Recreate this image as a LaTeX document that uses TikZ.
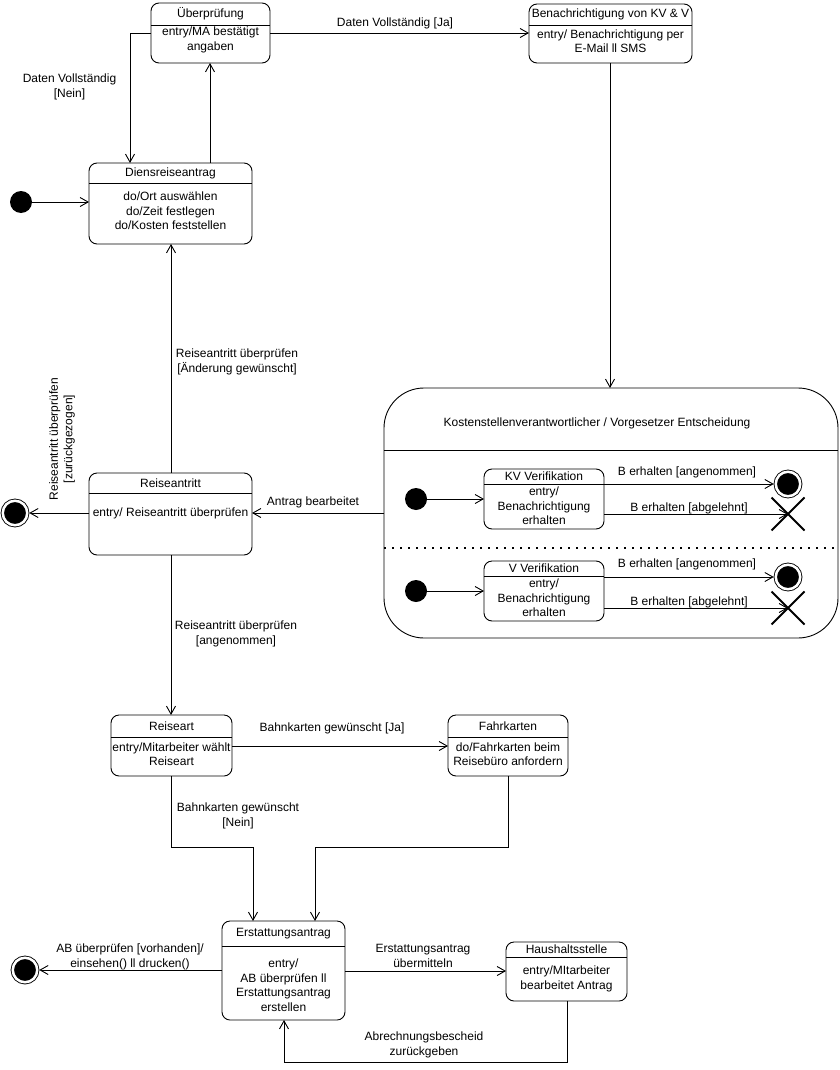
\documentclass[tikz,border=0pt]{standalone}
\usepackage{fontspec}
\setmainfont{Liberation Sans}
\usepackage{tikz}
\usetikzlibrary{arrows.meta,shapes,shapes.misc}
\usetikzlibrary{positioning}
\tikzstyle{trans}=[every edge/.style={draw,->}]
\tikzstyle{hit}=[->]
\tikzstyle{Sbox}=[draw,rounded corners=8pt,inner sep=0,outer sep=0]
\tikzstyle{Stxt}=[align=center,inner sep=0,font=\fontsize{12}{14.5}\selectfont]
\tikzstyle{Sini}=[circle,fill=black,minimum size=22pt,inner sep=0]
\tikzstyle{Sfin}=[circle,draw,fill=black,double,double distance=2.5pt,minimum size=24.5pt,inner sep=0,outer sep=2pt]
\tikzstyle{Skill}=[cross out,draw,line width=2pt,minimum size=31pt,inner sep=0]
\tikzstyle{region}=[dash pattern=on 2pt off 6pt,line width=1.5pt]
\newcommand{\stbox}[7]{\node[Sbox,minimum width={#4-#2},minimum height={#5-#3}] (#1) at ({(#2+#4)/2},{(#3+#5)/2}) {};\draw (#2,#6) -- (#4,#6);\node[Stxt] (#1t) at ({(#2+#4)/2},{(#3+#6)/2}) {#7};}

\begin{document}
\begin{tikzpicture}[trans,x=1pt,y=-1pt,line width=0.9pt,>={Straight Barb[length=8pt,width=9pt]}]
  \useasboundingbox (0,0) rectangle (839,1070);

  \stbox{uepr}{151}{3}{270}{63}{25}{Überprüfung};
  \node[Stxt] (ueprb) at (210.5,40) {entry/MA bestätigt\\angaben};
  \stbox{benach}{529}{4}{692}{63}{25}{Benachrichtigung von KV \& V};
  \node[Stxt] (benachb) at (610.5,41) {entry/ Benachrichtigung per\\E-Mail ll SMS};
  \stbox{dra}{89}{163}{252}{244}{183}{Diensreiseantrag};
  \node[Stxt] (drab) at (170.5,211) {do/Ort auswählen\\do/Zeit festlegen\\do/Kosten feststellen};
  \node[Sini] (i0) at (21,202) {};

  \draw[hit] (uepr.west |- 0,33) -| (130,0 |- dra.north);
  \node[Stxt] (l1) at (69.5,87) {Daten Vollständig\\{}[Nein]};
  \draw[hit] (dra.north -| 210,0) -- (uepr.south -| 210,0);
  \draw[hit] (uepr.east |- 0,33) -- (benach.west |- 0,33);
  \node[Stxt] (l2) at (395,23) {Daten Vollständig [Ja]};
  \draw[hit] (i0) -- (dra.west |- i0);

  \stbox{rant}{89}{473}{252}{555}{493}{Reiseantritt};
  \node[Stxt] (rantb) at (170.5,513) {entry/ Reiseantritt überprüfen};
  \node[Sfin] (f0) at (15,513) {};

  \node[Sbox,rounded corners=40pt,minimum width=454,minimum height=250] (kve) at (611,513) {};
  \node[Stxt] (kvet) at (597,423) {Kostenstellenverantwortlicher / Vorgesetzer Entscheidung};
  \draw (kve.west |- 0,450) -- (kve.east |- 0,450);
  \draw[region] (kve.west |- 0,548) -- (kve.east |- 0,548);
  \draw[hit] (benach.south -| 610,0) -- (kve.north -| 610,0);

  \node[Sini] (i1) at (416,499) {};
  \stbox{kv}{484}{469}{604}{529}{484}{KV Verifikation};
  \node[Stxt] (kvb) at (544,506) {entry/\\Benachrichtigung\\erhalten};
  \node[Sfin] (f1) at (788,484) {};
  \node[Skill] (x1) at (788,514) {};
  \path (i1) edge (kv);
  \draw[hit] (kv.east |- f1) -- (f1);
  \node[Stxt] (l3) at (687,472) {B erhalten [angenommen]};
  \draw[hit] (kv.east |- x1) -- (x1.center);
  \node[Stxt] (l4) at (689,508) {B erhalten [abgelehnt]};

  \node[Sini] (i2) at (416,591) {};
  \stbox{v}{484}{561}{604}{621}{576}{V Verifikation};
  \node[Stxt] (vb) at (544,598) {entry/\\Benachrichtigung\\erhalten};
  \node[Sfin] (f2) at (788,577) {};
  \node[Skill] (x2) at (788,608) {};
  \path (i2) edge (v);
  \draw[hit] (v.east |- f2) -- (f2);
  \node[Stxt] (l5) at (687,564) {B erhalten [angenommen]};
  \draw[hit] (v.east |- x2) -- (x2.center);
  \node[Stxt] (l6) at (689,602) {B erhalten [abgelehnt]};

  \draw[hit] (kve.west) -- (rant.east |- kve.west);
  \node[Stxt] (l7) at (313,502) {Antrag bearbeitet};
  \draw[hit] (rant.north -| 171,0) -- (dra.south -| 171,0);
  \node[Stxt] (l8) at (237,362) {Reiseantritt überprüfen\\{}[Änderung gewünscht]};
  \draw[hit] (rant.west |- f0) -- (f0);
  \node[Stxt,rotate=90] (l9) at (62,439) {Reiseantritt überprüfen\\{}[zurückgezogen]};

  \stbox{rart}{111}{715}{232}{776}{737}{Reiseart};
  \node[Stxt] (rartb) at (171.5,754) {entry/Mitarbeiter wählt\\Reiseart};
  \stbox{fahr}{448}{715}{568}{776}{737}{Fahrkarten};
  \node[Stxt] (fahrb) at (508,754) {do/Fahrkarten beim\\Reisebüro anfordern};
  \draw[hit] (rant.south -| 171,0) -- (rart.north -| 171,0);
  \node[Stxt] (l10) at (236,634) {Reiseantritt überprüfen\\{}[angenommen]};
  \draw[hit] (rart.east |- 0,746) -- (fahr.west |- 0,746);
  \node[Stxt] (l11) at (332,728) {Bahnkarten gewünscht [Ja]};

  \stbox{erst}{222}{921}{345}{1020}{946}{Erstattungsantrag};
  \node[Stxt] (erstb) at (283.5,985) {entry/\\AB überprüfen ll\\Erstattungsantrag\\erstellen};
  \stbox{haus}{506}{942}{627}{1001}{957}{Haushaltsstelle};
  \node[Stxt] (hausb) at (566.5,979) {entry/MItarbeiter\\bearbeitet Antrag};
  \node[Sfin] (f3) at (25,970) {};

  \draw[hit] (rart.south -| 171,0) -- (171,847) -| (erst.north -| 253,0);
  \node[Stxt] (l12) at (238,816) {Bahnkarten gewünscht\\{}[Nein]};
  \draw[hit] (fahr.south) -- (508,847) -| (erst.north -| 315,0);
  \draw[hit] (erst.west |- f3) -- (f3);
  \node[Stxt] (l13) at (130,957) {AB überprüfen [vorhanden]/\\einsehen() ll drucken()};
  \draw[hit] (erst.east |- 0,971) -- (haus.west |- 0,971);
  \node[Stxt] (l14) at (423,956) {Erstattungsantrag\\übermitteln};
  \draw[hit] (haus.south -| 567,0) -- (567,1062) -| (erst.south -| 284,0);
  \node[Stxt] (l15) at (424,1045) {Abrechnungsbescheid\\zurückgeben};
\end{tikzpicture}
\end{document}
